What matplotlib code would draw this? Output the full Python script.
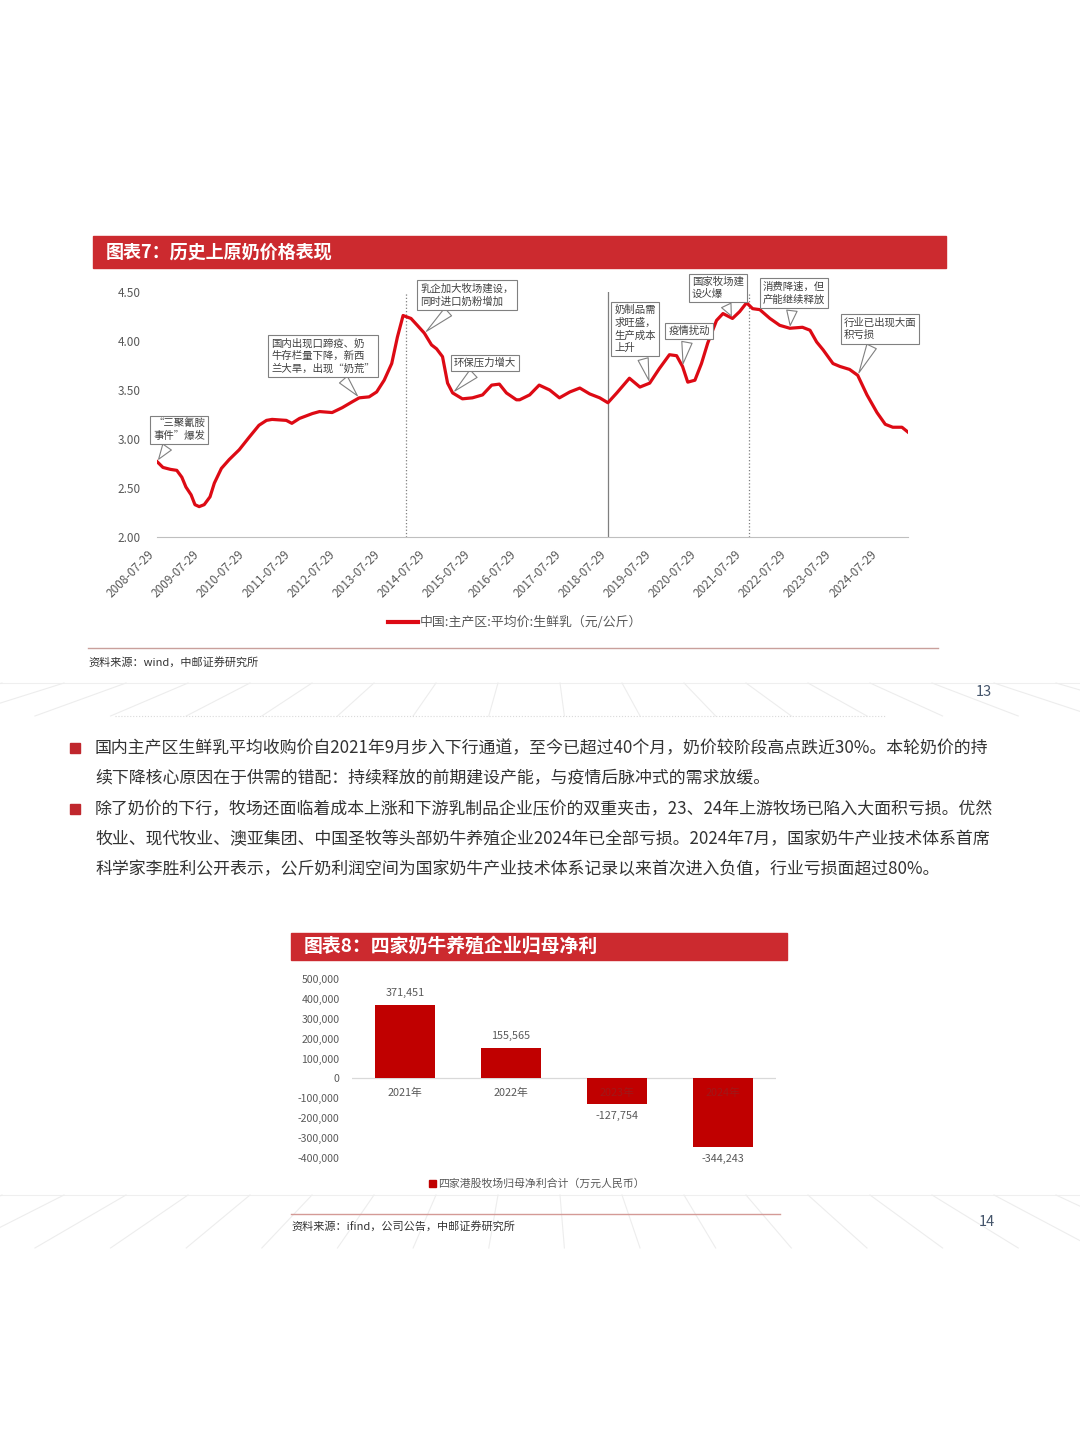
import numpy as np
import pandas as pd
import matplotlib
matplotlib.use("Agg")
import matplotlib.pyplot as plt
from matplotlib.patches import Rectangle
from matplotlib.lines import Line2D

plt.rcParams['font.family'] = ['Noto Sans CJK SC', 'DejaVu Sans']

W, H = 1080, 1443
HEAD_RED = '#CC2A2F'
LINE_RED = '#DD0A14'
BAR_RED = '#C00000'
GRAY = '#595959'
TXT = '#333333'

# ---- data: raw milk price ----
milk_dates = [
    '2008-07-29', '2008-09-15', '2008-11-15', '2009-01-05', '2009-02-15', '2009-03-20',
    '2009-05-01', '2009-06-01', '2009-07-05', '2009-08-15', '2009-10-01', '2009-11-05',
    '2010-01-01', '2010-03-05', '2010-05-25', '2010-08-15', '2010-11-01', '2011-01-01',
    '2011-02-15', '2011-06-10', '2011-07-25', '2011-09-25', '2012-01-08', '2012-03-05',
    '2012-06-15', '2012-09-05', '2012-11-25', '2013-01-20', '2013-04-10', '2013-06-10',
    '2013-08-10', '2013-10-10', '2013-11-25', '2014-01-10', '2014-03-15', '2014-05-05',
    '2014-07-01', '2014-08-28', '2014-10-08', '2014-11-25', '2015-01-05', '2015-02-15',
    '2015-05-05', '2015-07-25', '2015-10-15', '2015-12-28', '2016-02-28', '2016-04-25',
    '2016-07-15', '2016-08-10', '2016-10-30', '2017-01-15', '2017-04-10', '2017-06-28',
    '2017-09-20', '2017-12-10', '2018-02-28', '2018-05-20', '2018-07-25', '2018-10-05',
    '2019-01-15', '2019-04-10', '2019-06-28', '2019-09-15', '2019-12-05', '2020-02-01',
    '2020-03-20', '2020-05-01', '2020-06-28', '2020-08-20', '2020-10-10', '2020-12-20',
    '2021-02-10', '2021-04-28', '2021-06-25', '2021-08-20', '2021-10-08', '2021-12-05',
    '2022-02-25', '2022-05-15', '2022-08-05', '2022-11-15', '2023-01-15', '2023-03-10',
    '2023-05-01', '2023-07-20', '2023-09-15', '2023-12-01', '2024-02-05', '2024-04-20',
    '2024-07-10', '2024-09-15', '2024-11-15', '2025-01-28', '2025-03-18',
]
milk_price = [
    2.77, 2.71, 2.69, 2.68, 2.61, 2.51,
    2.43, 2.33, 2.31, 2.33, 2.41, 2.55,
    2.70, 2.79, 2.89, 3.02, 3.14, 3.19,
    3.20, 3.19, 3.16, 3.21, 3.26, 3.28,
    3.27, 3.32, 3.38, 3.42, 3.43, 3.48,
    3.60, 3.77, 4.04, 4.26, 4.23, 4.16,
    4.08, 3.96, 3.92, 3.84, 3.57, 3.47,
    3.41, 3.42, 3.45, 3.55, 3.56, 3.47,
    3.40, 3.40, 3.45, 3.55, 3.50, 3.42,
    3.48, 3.52, 3.46, 3.42, 3.37, 3.47,
    3.62, 3.53, 3.57, 3.72, 3.86, 3.85,
    3.74, 3.58, 3.60, 3.77, 3.98, 4.21,
    4.28, 4.23, 4.30, 4.39, 4.33, 4.32,
    4.23, 4.16, 4.13, 4.14, 4.11, 3.99,
    3.91, 3.77, 3.74, 3.71, 3.65, 3.45,
    3.27, 3.15, 3.12, 3.12, 3.07,
]
tick_dates = ['%d-07-29' % y for y in range(2008, 2025)]
event_dates = ['2014-02-05', '2018-07-29', '2021-09-05']
event_styles = [':', '-', ':']

notes = ['“三聚氰胺\n事件”爆发',
         '国内出现口蹄疫、奶\n牛存栏量下降，新西\n兰大旱，出现“奶荒”',
         '乳企加大牧场建设，\n同时进口奶粉增加',
         '环保压力增大',
         '奶制品需\n求旺盛，\n生产成本\n上升',
         '疫情扰动',
         '国家牧场建\n设火爆',
         '消费降速，但\n产能继续释放',
         '行业已出现大面\n积亏损']
note_dates = ['2008-07-29', '2013-01-20', '2014-07-01', '2015-02-15', '2019-06-28',
              '2020-03-20', '2021-04-28', '2022-08-05', '2024-02-05']
# box centres in page pixels
note_box = [(179, 430), (323, 356), (467, 295), (485, 363), (635, 329),
            (689, 331), (718, 288), (794, 293), (880, 329)]

# ---- data: net profit of four dairy farms ----
years = ['2021年', '2022年', '2023年', '2024年']
profit = [371451, 155565, -127754, -344243]

para1 = ['国内主产区生鲜乳平均收购价自2021年9月步入下行通道，至今已超过40个月，奶价较阶段高点跌近30%。本轮奶价的持',
         '续下降核心原因在于供需的错配：持续释放的前期建设产能，与疫情后脉冲式的需求放缓。']
para2 = ['除了奶价的下行，牧场还面临着成本上涨和下游乳制品企业压价的双重夹击，23、24年上游牧场已陷入大面积亏损。优然',
         '牧业、现代牧业、澳亚集团、中国圣牧等头部奶牛养殖企业2024年已全部亏损。2024年7月，国家奶牛产业技术体系首席',
         '科学家李胜利公开表示，公斤奶利润空间为国家奶牛产业技术体系记录以来首次进入负值，行业亏损面超过80%。']


def fx(x):
    return x / W


def fy(y):
    return 1 - y / H


fig = plt.figure(figsize=(W / 100, H / 100), dpi=100)
fig.patch.set_facecolor('white')


def header(x0, x1, y0, y1, text, size):
    fig.patches.append(Rectangle((fx(x0), fy(y1)), (x1 - x0) / W, (y1 - y0) / H,
                                 transform=fig.transFigure, color=HEAD_RED, zorder=0))
    fig.text(fx(x0 + 13), fy((y0 + y1) / 2), text, color='white', fontsize=size,
             fontweight='bold', va='center', ha='left')


def seg(x0, y0, x1, y1, color, lw=1.0, ls='-'):
    fig.add_artist(Line2D([fx(x0), fx(x1)], [fy(y0), fy(y1)], transform=fig.transFigure,
                          color=color, lw=lw, ls=ls, zorder=0))


# faint page background grid
for ya, yb in ((683, 716), (1195, 1248)):
    seg(0, ya, W, ya, '#EFEFEF', lw=0.8)
    for x in range(-60, W + 61, 62):
        seg(x, ya, x + (x - 540) * 0.22, yb, '#EDEDED', lw=0.8)

# ---------------- chart 7 ----------------
header(93, 946, 236, 268, '图表7：历史上原奶价格表现', 13)

d = pd.to_datetime(milk_dates)
ax = fig.add_axes([fx(157), fy(537), (908 - 157) / W, (537 - 292) / H])
ax.patch.set_alpha(0)
ax.plot(d, milk_price, color=LINE_RED, lw=2.3, solid_joinstyle='round', zorder=3)
ax.set_xlim(d[0], d[-1])
ax.set_ylim(2.0, 4.5)
ax.set_yticks(np.arange(2.0, 4.51, 0.5))
ax.set_yticklabels(['%.2f' % v for v in np.arange(2.0, 4.51, 0.5)])
ax.set_xticks(pd.to_datetime(tick_dates))
ax.set_xticklabels(tick_dates, rotation=45, ha='right')
for s in ['top', 'right', 'left']:
    ax.spines[s].set_visible(False)
ax.spines['bottom'].set_color('#BFBFBF')
ax.tick_params(axis='both', length=0, colors=GRAY, labelsize=8.5)
ax.tick_params(axis='x', pad=8)
ax.tick_params(axis='y', pad=12)

for ed, st in zip(event_dates, event_styles):
    ax.axvline(pd.Timestamp(ed), color='#7F7F7F', lw=0.9, ls=st, zorder=2)

for txt, nd, (bx_, by_) in zip(notes, note_dates, note_box):
    i = int(np.argmin(np.abs((d - pd.Timestamp(nd)).days)))
    ax.annotate(txt, xy=(d[i], milk_price[i]), xytext=(bx_, H - by_),
                textcoords='figure pixels', ha='center', va='center',
                multialignment='left', fontsize=7.5, color='#404040',
                linespacing=1.3, annotation_clip=False, zorder=6,
                bbox=dict(boxstyle='square,pad=0.3', fc='white', ec='#808080', lw=0.8),
                arrowprops=dict(arrowstyle='wedge,tail_width=1.0,shrink_factor=0.5',
                                fc='white', ec='#808080', lw=0.8))

# legend
fig.add_artist(Line2D([fx(388), fx(418)], [fy(622), fy(622)], transform=fig.transFigure,
                      color=LINE_RED, lw=3))
fig.text(fx(420), fy(622), '中国:主产区:平均价:生鲜乳（元/公斤）', color=GRAY,
         fontsize=9.3, va='center', ha='left')

seg(88, 648, 938, 648, '#C9A09C', lw=1.0)
fig.text(fx(88), fy(662), '资料来源：wind，中邮证券研究所', color=TXT, fontsize=8,
         va='center', ha='left')
fig.text(fx(984), fy(692), '13', color='#44546A', fontsize=10.5, va='center', ha='center')
seg(115, 716, 885, 716, '#DADADA', lw=0.8, ls=':')

# ---------------- paragraphs ----------------
line_y = [748, 778, 809, 839, 869]
for k, ln in enumerate(para1 + para2):
    fig.text(fx(95), fy(line_y[k]), ln, color=TXT, fontsize=12.2, va='center', ha='left')
for yb in (line_y[0], line_y[2]):
    fig.patches.append(Rectangle((fx(70), fy(yb + 5)), 10 / W, 10 / H,
                                 transform=fig.transFigure, color='#C0272D'))

# ---------------- chart 8 ----------------
header(291, 787, 933, 960, '图表8：四家奶牛养殖企业归母净利', 13.6)

bx = fig.add_axes([fx(352), fy(1158), (776 - 352) / W, (1158 - 979) / H])
bx.patch.set_alpha(0)
pos = np.arange(len(years))
bx.bar(pos, profit, width=0.566, color=BAR_RED, zorder=2)
bx.set_xlim(-0.5, len(years) - 0.5)
bx.set_ylim(-400000, 500000)
yt = np.arange(-400000, 500001, 100000)
bx.set_yticks(yt)
bx.set_yticklabels(['{:,}'.format(v) for v in yt])
bx.set_xticks([])
for s in bx.spines.values():
    s.set_visible(False)
bx.axhline(0, color='#D9D9D9', lw=0.9, zorder=1)
bx.tick_params(axis='y', length=0, colors=GRAY, labelsize=7.6, pad=9)
for i, v in enumerate(profit):
    bx.annotate('{:,}'.format(v), (i, v), xytext=(0, 5 if v > 0 else -5),
                textcoords='offset points', ha='center', va='bottom' if v > 0 else 'top',
                fontsize=7.8, color=GRAY)
    bx.annotate(years[i], (i, 0), xytext=(0, -7), textcoords='offset points',
                ha='center', va='top', fontsize=7.8,
                color=GRAY if v > 0 else '#A01818', zorder=3)

fig.patches.append(Rectangle((fx(429), fy(1187)), 7 / W, 7 / H, transform=fig.transFigure,
                             color=BAR_RED))
fig.text(fx(438), fy(1183), '四家港股牧场归母净利合计（万元人民币）', color=GRAY,
         fontsize=7.8, va='center', ha='left')

seg(291, 1214, 780, 1214, '#D49A96', lw=1.0)
fig.text(fx(291), fy(1226), '资料来源：ifind，公司公告，中邮证券研究所', color=TXT,
         fontsize=8, va='center', ha='left')
fig.text(fx(987), fy(1222), '14', color='#44546A', fontsize=10.5, va='center', ha='center')

fig.savefig('out.png', dpi=100)
